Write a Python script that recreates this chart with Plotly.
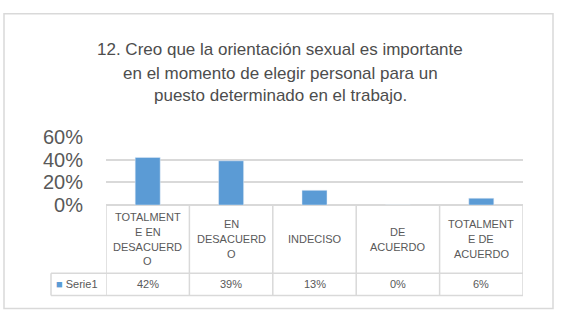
import plotly.graph_objects as go

title_lines = [
    "12. Creo que la orientación sexual es importante",
    "en el momento de elegir personal para un",
    "puesto determinado en el trabajo.",
]
categories = ["TOTALMENTE EN DESACUERDO", "EN DESACUERDO", "INDECISO",
              "DE ACUERDO", "TOTALMENTE DE ACUERDO"]
header_labels = ["TOTALMENT<br>E EN<br>DESACUERD<br>O", "EN<br>DESACUERD<br>O",
                 "INDECISO", "DE<br>ACUERDO", "TOTALMENT<br>E DE<br>ACUERDO"]
series_name = "Serie1"
values = [0.42, 0.39, 0.13, 0.00, 0.06]
value_labels = ["42%", "39%", "13%", "0%", "6%"]
y_ticks = [0, 0.2, 0.4, 0.6]

W, H = 561, 328
BLUE = "#5b9bd5"
GRID = "#d9d9d9"
TXT = "#595959"
TITLE_C = "#4d4d4d"
FONT = "Liberation Sans, Arial, sans-serif"

def py(pix):
    return 1 - pix / H

def px(pix):
    return pix / W

x0p, x1p = 106, 523
y_top, y_zero = 135, 208
y_row1, y_row2 = 281, 305
x_leg = 51

fig = go.Figure()
fig.add_trace(go.Bar(x=categories, y=values, marker_color=BLUE, width=0.3,
                     name=series_name, showlegend=False, hoverinfo="skip"))

n = len(categories)
fig.update_layout(
    width=W, height=H, margin=dict(l=0, r=0, t=0, b=0),
    paper_bgcolor="white", plot_bgcolor="white",
    xaxis=dict(domain=[px(x0p), px(x1p)], range=[-0.5, n - 0.5],
               showticklabels=False, showgrid=False, zeroline=False,
               showline=False, fixedrange=True),
    yaxis=dict(domain=[py(y_zero), py(y_top)], range=[0, 0.6],
               tickvals=y_ticks, tickformat=".0%",
               tickfont=dict(family=FONT, size=20, color=TXT),
               showgrid=True, gridcolor=GRID, gridwidth=1.5,
               zeroline=True, zerolinecolor=GRID, zerolinewidth=1.5,
               showline=False, ticklabelstandoff=22, fixedrange=True),
    showlegend=False,
)

shapes = []
# outer border
shapes.append(dict(type="rect", xref="paper", yref="paper",
                   x0=px(4), x1=px(553), y0=py(319), y1=py(3),
                   line=dict(color=GRID, width=1.5)))
# table horizontal lines
for yy, xs in [(y_row1, x_leg), (y_row2, x_leg)]:
    shapes.append(dict(type="line", xref="paper", yref="paper",
                       x0=px(xs), x1=px(x1p), y0=py(yy), y1=py(yy),
                       line=dict(color=GRID, width=1.5)))
# table vertical lines
for i in range(n + 1):
    shapes.append(dict(type="line", xref="x", yref="paper",
                       x0=i - 0.5, x1=i - 0.5, y0=py(y_row2), y1=py(y_zero),
                       line=dict(color=GRID, width=1.5)))
shapes.append(dict(type="line", xref="paper", yref="paper",
                   x0=px(x_leg), x1=px(x_leg), y0=py(y_row2), y1=py(y_row1),
                   line=dict(color=GRID, width=1.5)))
fig.update_layout(shapes=shapes)

ann = []
title_y = [41, 67, 91]
for line, yy in zip(title_lines, title_y):
    ann.append(dict(text=line, xref="paper", yref="paper", x=px(280), y=py(yy),
                    showarrow=False, xanchor="center", yanchor="middle",
                    font=dict(family=FONT, size=17, color=TITLE_C)))
LINE_H = 16
mid = (y_zero + y_row1) / 2
for cat, lab, vl in zip(categories, header_labels, value_labels):
    parts = lab.split("<br>")
    k = len(parts)
    for j, p in enumerate(parts):
        yy = mid + (j - (k - 1) / 2) * LINE_H
        ann.append(dict(text=p, xref="x", yref="paper", x=cat, y=py(yy),
                        showarrow=False, xanchor="center", yanchor="middle",
                        font=dict(family=FONT, size=11, color=TXT)))
    ann.append(dict(text=vl, xref="x", yref="paper", x=cat,
                    y=py((y_row1 + y_row2) / 2), showarrow=False,
                    xanchor="center", yanchor="middle",
                    font=dict(family=FONT, size=11, color=TXT)))
ann.append(dict(text=f"<span style='color:{BLUE}'>■</span> {series_name}",
                xref="paper", yref="paper", x=px(54), y=py((y_row1 + y_row2) / 2),
                showarrow=False, xanchor="left", yanchor="middle",
                font=dict(family=FONT, size=11, color=TXT)))
fig.update_layout(annotations=ann)

fig.write_html("out.html", config={"displayModeBar": False},
               post_script="document.body.style.margin='0';")
